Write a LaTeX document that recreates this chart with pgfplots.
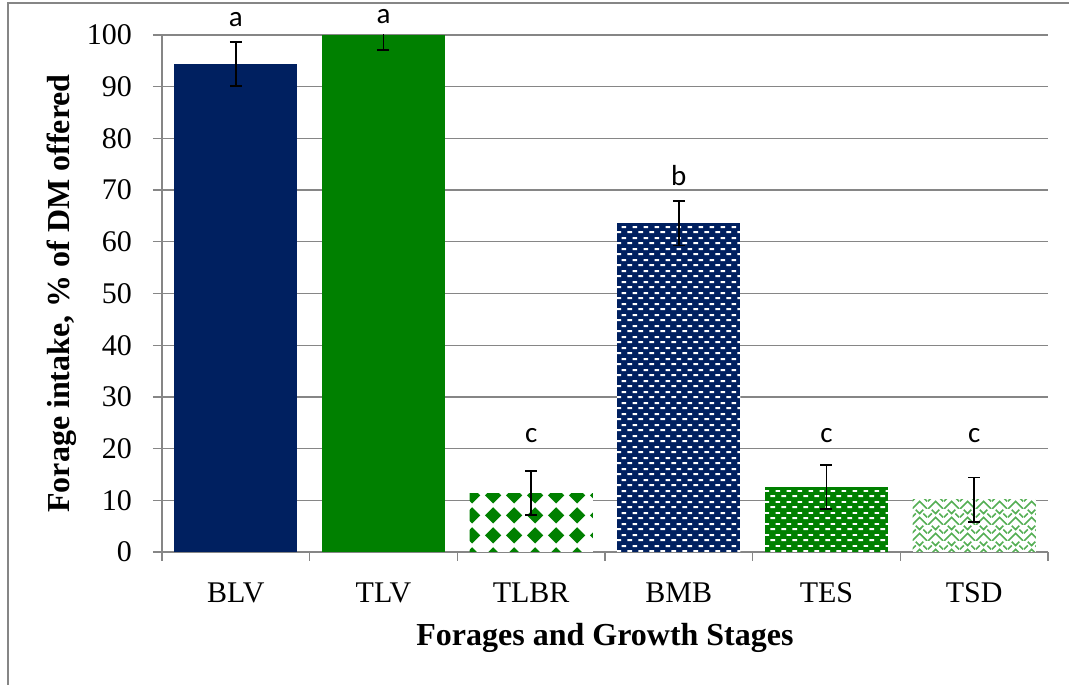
\documentclass[border=0pt]{standalone}
\usepackage{fontspec}
\setmainfont{Liberation Serif}
\newfontfamily\carlito{Carlito}
\usepackage{pgfplots}
\pgfplotsset{compat=1.18}
\usetikzlibrary{patterns}

\definecolor{navy}{RGB}{0,32,96}
\definecolor{dgreen}{RGB}{0,128,0}
\definecolor{lgreen}{RGB}{85,175,85}
\definecolor{gridgray}{RGB}{134,134,134}

% green diamonds (TLBR)
\pgfdeclarepatternformonly{diamonds}{\pgfpointorigin}{\pgfpoint{21pt}{20pt}}{\pgfpoint{21pt}{20pt}}{%
  \pgfpathmoveto{\pgfpoint{10.5pt}{1.5pt}}%
  \pgfpathlineto{\pgfpoint{19pt}{10pt}}%
  \pgfpathlineto{\pgfpoint{10.5pt}{18.5pt}}%
  \pgfpathlineto{\pgfpoint{2pt}{10pt}}%
  \pgfpathclose\pgfusepath{fill}}
% small offset dashes (BMB, TES)
\pgfdeclarepatternformonly{dashes}{\pgfpointorigin}{\pgfpoint{11pt}{11pt}}{\pgfpoint{11pt}{11pt}}{%
  \pgfpathrectangle{\pgfpoint{0.5pt}{1pt}}{\pgfpoint{5pt}{2pt}}%
  \pgfpathrectangle{\pgfpoint{6pt}{6.5pt}}{\pgfpoint{5pt}{2pt}}%
  \pgfusepath{fill}}
% weave (TSD)
\pgfdeclarepatternformonly{weave}{\pgfpointorigin}{\pgfpoint{16pt}{16pt}}{\pgfpoint{16pt}{16pt}}{%
  \pgfsetlinewidth{1.7pt}%
  \pgfpathmoveto{\pgfpoint{0pt}{0pt}}\pgfpathlineto{\pgfpoint{8pt}{8pt}}\pgfpathlineto{\pgfpoint{16pt}{0pt}}%
  \pgfpathmoveto{\pgfpoint{0pt}{8pt}}\pgfpathlineto{\pgfpoint{4pt}{12pt}}%
  \pgfpathmoveto{\pgfpoint{12pt}{12pt}}\pgfpathlineto{\pgfpoint{16pt}{8pt}}%
  \pgfpathmoveto{\pgfpoint{4pt}{16pt}}\pgfpathlineto{\pgfpoint{8pt}{12pt}}\pgfpathlineto{\pgfpoint{12pt}{16pt}}%
  \pgfusepath{stroke}}

\pgfplotsset{bar/.style={ybar, bar width=0.835, bar shift=0pt, draw=none}}

\begin{document}
\begin{tikzpicture}
\useasboundingbox (-162pt,-133pt) rectangle (907pt,552pt);
\draw[gridgray, line width=1.5pt] (-154pt,-133pt) -- (-154pt,549pt) -- (907pt,549pt);
\begin{axis}[
  at={(0,0)}, anchor=south west,
  scale only axis, width=886pt, height=517pt,
  xmin=-0.5, xmax=5.5, ymin=0, ymax=100,
  clip mode=individual,
  axis line style={draw=none},
  tick pos=left, tick align=outside,
  major tick length=9pt,
  every tick/.style={gridgray, line width=1.3pt},
  ytick={0,10,...,100},
  xtick={-0.5,0.5,...,5.5}, xticklabels={},
  extra x ticks={0,1,2,3,4,5},
  extra x tick labels={BLV,TLV,TLBR,BMB,TES,TSD},
  extra x tick style={major tick length=0pt},
  ymajorgrids, major grid style={gridgray, line width=1.3pt},
  /pgf/number format/assume math mode=true,
  tick label style={font=\fontsize{30}{32}\selectfont, inner sep=0pt},
  y tick label style={anchor=east, xshift=-21pt},
  x tick label style={anchor=base, yshift=-51pt},
  label style={font=\fontsize{32}{34}\selectfont\bfseries},
  xlabel={Forages and Growth Stages},
  ylabel={Forage intake, \% of DM offered},
  xlabel style={at={(rel axis cs:0.5,0)}, anchor=center, yshift=-86pt},
  ylabel style={at={(rel axis cs:0,0.5)}, anchor=center, yshift=100pt},
  error bars/y dir=both, error bars/y explicit,
  error bars/error bar style={black, line width=1.8pt},
  error bars/error mark options={black, line width=1.8pt, mark size=6pt, rotate=90},
]
\draw[gridgray, line width=1.3pt] (rel axis cs:0,0) -- (rel axis cs:0,1);
\draw[gridgray, line width=1.3pt] (rel axis cs:0,0) -- (rel axis cs:1,0);
\addplot[bar, fill=navy] coordinates {(0,94.4) +- (0,4.3)};
\addplot[bar, fill=dgreen] coordinates {(1,100) +- (0,2.9)};
\addplot[bar, fill=white, postaction={pattern=diamonds, pattern color=dgreen}] coordinates {(2,11.4) +- (0,4.3)};
\addplot[bar, fill=navy, postaction={pattern=dashes, pattern color=white}] coordinates {(3,63.6) +- (0,4.3)};
\addplot[bar, fill=dgreen, postaction={pattern=dashes, pattern color=white}] coordinates {(4,12.6) +- (0,4.3)};
\addplot[bar, fill=white, postaction={pattern=weave, pattern color=lgreen}] coordinates {(5,10.1) +- (0,4.3)};
\begin{scope}[font=\carlito\fontsize{29}{31}\selectfont]
\node[anchor=base] at (axis cs:0,101.7) {a};
\node[anchor=base] at (axis cs:1,102.3) {a};
\node[anchor=base] at (axis cs:2,21.1) {c};
\node[anchor=base] at (axis cs:3,70.8) {b};
\node[anchor=base] at (axis cs:4,21.1) {c};
\node[anchor=base] at (axis cs:5,21.1) {c};
\end{scope}
\end{axis}
\end{tikzpicture}
\end{document}
